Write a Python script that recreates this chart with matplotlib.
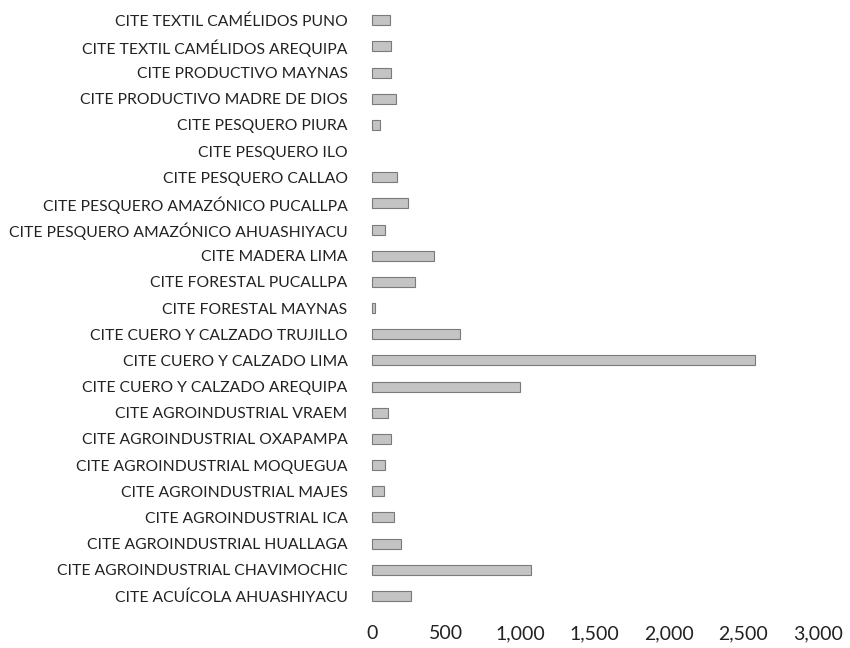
import matplotlib
matplotlib.use("Agg")
import matplotlib.pyplot as plt
from matplotlib.ticker import FuncFormatter

categories = [
    "CITE ACUÍCOLA AHUASHIYACU",
    "CITE AGROINDUSTRIAL CHAVIMOCHIC",
    "CITE AGROINDUSTRIAL HUALLAGA",
    "CITE AGROINDUSTRIAL ICA",
    "CITE AGROINDUSTRIAL MAJES",
    "CITE AGROINDUSTRIAL MOQUEGUA",
    "CITE AGROINDUSTRIAL OXAPAMPA",
    "CITE AGROINDUSTRIAL VRAEM",
    "CITE CUERO Y CALZADO AREQUIPA",
    "CITE CUERO Y CALZADO LIMA",
    "CITE CUERO Y CALZADO TRUJILLO",
    "CITE FORESTAL MAYNAS",
    "CITE FORESTAL PUCALLPA",
    "CITE MADERA LIMA",
    "CITE PESQUERO AMAZÓNICO AHUASHIYACU",
    "CITE PESQUERO AMAZÓNICO PUCALLPA",
    "CITE PESQUERO CALLAO",
    "CITE PESQUERO ILO",
    "CITE PESQUERO PIURA",
    "CITE PRODUCTIVO MADRE DE DIOS",
    "CITE PRODUCTIVO MAYNAS",
    "CITE TEXTIL CAMÉLIDOS AREQUIPA",
    "CITE TEXTIL CAMÉLIDOS PUNO",
]
values = [265, 1070, 195, 150, 80, 85, 130, 110, 995, 2580, 595,
          20, 290, 420, 85, 240, 170, 0, 55, 160, 125, 130, 120]
xticks = [0, 500, 1000, 1500, 2000, 2500, 3000]

plt.rcParams['font.family'] = ['Lato', 'DejaVu Sans']
fig = plt.figure(figsize=(8.5, 6.48), dpi=100)
ax = fig.add_axes([0.435, 0.048, 0.527, 0.945])

y = list(range(len(categories)))
lw = [0.8 if v > 0 else 0 for v in values]
ax.barh(y, values, height=0.38, color="#c4c4c4", edgecolor="#7a7a7a", linewidth=lw)
ax.set_yticks(y)
ax.set_yticklabels(categories, fontsize=11.3, color="#222222")
ax.set_xticks(xticks)
ax.xaxis.set_major_formatter(FuncFormatter(lambda v, p: f"{int(v):,}"))
ax.tick_params(axis='x', labelsize=14, colors="#222222", length=0, pad=6)
ax.tick_params(axis='y', length=0, pad=16)
ax.set_xlim(-15, 3000)
ax.set_ylim(-0.8, len(categories) - 0.4)
for s in ax.spines.values():
    s.set_visible(False)

fig.savefig("out.png", dpi=100)
